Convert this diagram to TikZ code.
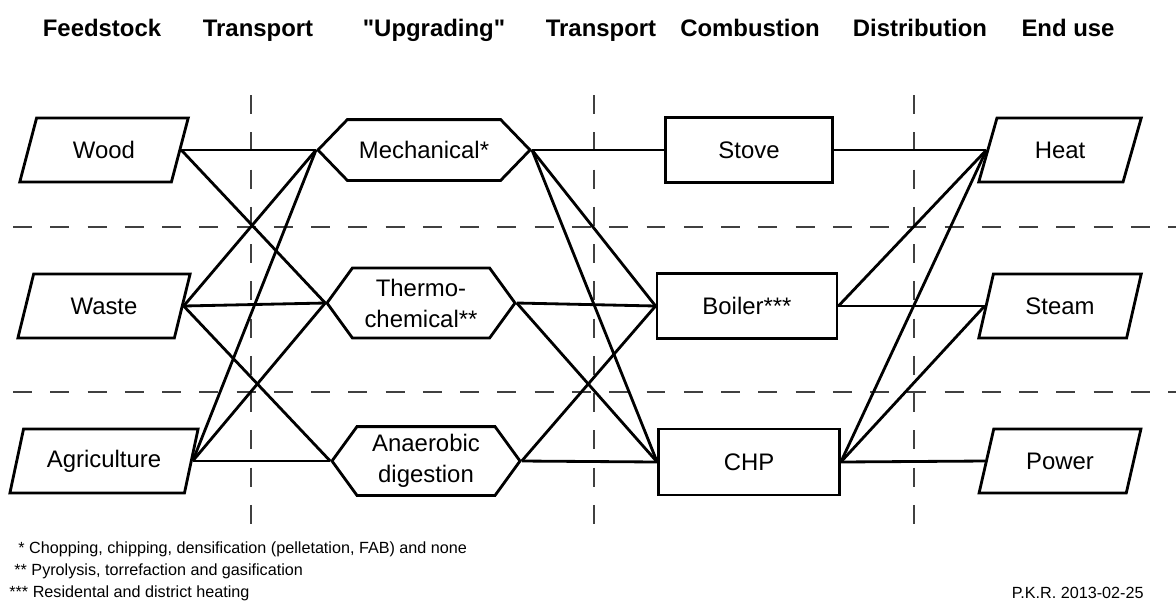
\documentclass[tikz,border=0pt]{standalone}
\usepackage{fontspec}
\setmainfont{Liberation Sans}
\usetikzlibrary{shapes.geometric, shapes.symbols}

\begin{document}
\begin{tikzpicture}[x=0.025cm, y=-0.025cm, line width=2pt,
        every node/.style={font=\fontsize{17}{22}\selectfont, inner sep=2pt},
        feed/.style={trapezium, trapezium left angle=70, trapezium right angle=110,
            trapezium stretches=true, draw, minimum height=1.6cm},
        upgrade/.style={signal, signal to=west and east, draw, align=center},
        unitbox/.style={rectangle, draw, minimum height=1.62cm},
        header/.style={font=\bfseries\fontsize{17}{22}\selectfont, anchor=base},
        footnote/.style={font=\fontsize{11.5}{14}\selectfont, anchor=west, inner sep=0pt},
        divider/.style={line width=1pt, draw=black!75, dash pattern=on 13.5pt off 13pt}]
        \useasboundingbox (0,0) rectangle (1176,601);

        % section dividers
        \draw[divider] (251,95) -- (251,528);
        \draw[divider] (594,95) -- (594,528);
        \draw[divider] (914,95) -- (914,528);
        \draw[divider] (13,227) -- (1176,227);
        \draw[divider] (13,392) -- (1176,392);

        % column headers
        \node[header] (h1) at (102,36) {Feedstock};
        \node[header] (h2) at (258,36) {Transport};
        \node[header] (h3) at (434,36) {\textquotedbl Upgrading\textquotedbl};
        \node[header] (h4) at (601,36) {Transport};
        \node[header] (h5) at (750,36) {Combustion};
        \node[header] (h6) at (920,36) {Distribution};
        \node[header] (h7) at (1068,36) {End use};

        % feedstock
        \node[feed, minimum width=4.22cm] (wood) at (104,150) {Wood};
        \node[feed, minimum width=4.32cm] (waste) at (104,306) {Waste};
        \node[feed, minimum width=4.72cm] (agri) at (104,461) {Agriculture};

        % upgrading
        \node[upgrade, signal pointer angle=92, minimum width=5.3cm, minimum height=1.52cm] (mech) at (424,150) {Mechanical*};
        \node[upgrade, signal pointer angle=108, minimum width=4.7cm, minimum height=1.75cm] (thermo) at (421,303) {Thermo-\\chemical**};
        \node[upgrade, signal pointer angle=108, minimum width=4.7cm, minimum height=1.72cm] (anaer) at (426,461) {Anaerobic\\digestion};

        % combustion
        \node[unitbox, minimum width=4.17cm] (stove) at (749,150) {Stove};
        \node[unitbox, minimum width=4.5cm] (boiler) at (747,306) {Boiler***};
        \node[unitbox, minimum width=4.52cm, minimum height=1.65cm] (chp) at (749,462) {CHP};

        % end use
        \node[feed, minimum width=4.07cm] (heat) at (1060,150) {Heat};
        \node[feed, minimum width=4.07cm] (steam) at (1060,306) {Steam};
        \node[feed, minimum width=4.07cm] (power) at (1060,461) {Power};

        \draw (wood.right side) -- (mech.west);
        \draw (wood.right side) -- (thermo.west);
        \draw (waste.right side) -- (mech.west);
        \draw (waste.right side) -- (thermo.west);
        \draw (waste.right side) -- (anaer.west);
        \draw (agri.right side) -- (mech.west);
        \draw (agri.right side) -- (thermo.west);
        \draw (agri.right side) -- (anaer.west);

        \draw (mech.east) -- (stove.west);
        \draw (mech.east) -- (boiler.west);
        \draw (mech.east) -- (chp.west);
        \draw (thermo.east) -- (boiler.west);
        \draw (thermo.east) -- (chp.west);
        \draw (anaer.east) -- (boiler.west);
        \draw (anaer.east) -- (chp.west);

        \draw (stove.east) -- (heat.left side);
        \draw (boiler.east) -- (heat.left side);
        \draw (boiler.east) -- (steam.left side);
        \draw (chp.east) -- (heat.left side);
        \draw (chp.east) -- (steam.left side);
        \draw (chp.east) -- (power.left side);

        % footnotes
        \node[footnote] (n1) at (17,549) {* Chopping, chipping, densification (pelletation, FAB) and none};
        \node[footnote] (n2) at (13,571) {** Pyrolysis, torrefaction and gasification};
        \node[footnote] (n3) at (8,593) {*** Residental and district heating};
        \node[footnote, anchor=east] (sig) at (1145,593) {P.K.R. 2013-02-25};
\end{tikzpicture}
\end{document}
